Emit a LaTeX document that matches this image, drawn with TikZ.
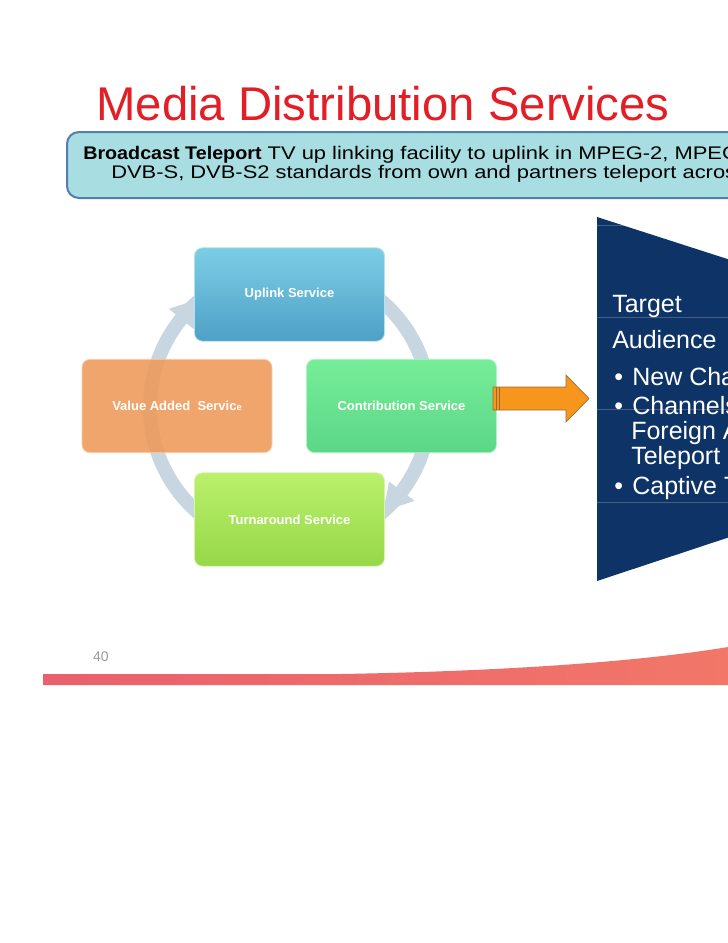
\documentclass[tikz,border=0pt]{standalone}
\usepackage{fontspec}
\setmainfont{Liberation Sans}
\newfontfamily\bodyfont[FakeStretch=1.2]{Liberation Sans}
\newfontfamily\bodybold[FakeStretch=1.08]{Liberation Sans}
\usetikzlibrary{calc}
\definecolor{titlered}{RGB}{226,30,38}
\definecolor{bannerfill}{RGB}{168,221,226}
\definecolor{bannerline}{RGB}{84,126,176}
\definecolor{navy}{RGB}{14,51,102}
\definecolor{ringc}{RGB}{200,214,225}
\definecolor{upA}{RGB}{124,206,230}
\definecolor{upB}{RGB}{78,160,198}
\definecolor{vaA}{RGB}{246,172,108}
\definecolor{vaB}{RGB}{238,156,92}
\definecolor{coA}{RGB}{118,238,152}
\definecolor{coB}{RGB}{92,214,136}
\definecolor{tuA}{RGB}{186,240,108}
\definecolor{tuB}{RGB}{150,216,72}
\definecolor{arrowor}{RGB}{247,150,28}
\definecolor{arrowln}{RGB}{150,108,50}
\definecolor{swA}{RGB}{234,96,110}
\definecolor{swB}{RGB}{242,120,104}
\begin{document}
\begin{tikzpicture}[x=0.75pt,y=-0.75pt,
  svcbox/.style={rounded corners=6pt, minimum width=142.5pt, minimum height=70pt,
    inner sep=0pt, font=\fontsize{9.75pt}{11pt}\selectfont\bfseries, text=white},
  txt/.style={inner sep=0pt, anchor=base west},
  navytxt/.style={txt, text=white, font=\fontsize{18.75pt}{22pt}\selectfont},
  gridln/.style={white, opacity=0.22, line width=0.5pt}]
\useasboundingbox (0,0) rectangle (728,943);
\fill[white] (0,0) rectangle (728,943);
\clip (0,0) rectangle (728,943);

% title
\node[txt, text=titlered, font=\fontsize{35.5pt}{40pt}\selectfont] (title) at (96,120) {Media Distribution Services};

% banner
\draw[fill=bannerfill, draw=bannerline, line width=1.5pt, rounded corners=9pt] (67,132) rectangle (760,198);
\node[txt, font=\fontsize{13.7pt}{16pt}\selectfont] (bl1) at (83,159)
  {{\bodybold\bfseries Broadcast Teleport}\bodyfont{} TV up linking facility to uplink in MPEG-2, MPEG};
\node[txt, font=\fontsize{13.7pt}{16pt}\selectfont\bodyfont] (bl2) at (111,178)
  {DVB-S, DVB-S2 standards from own and partners teleport across};

% cycle ring
\coordinate (cc) at (290,407);
\draw[ringc, line width=10.5pt] (cc) circle[radius=140];
% arrowheads of the ring (angles negated: y axis points down)
\fill[ringc] ($(cc)+(-141:124)$) -- ($(cc)+(-141:156)$) -- ($(cc)+(-129:140)$) -- cycle;
\fill[ringc] ($(cc)+(37:124)$) -- ($(cc)+(37:156)$) -- ($(cc)+(48:140)$) -- cycle;

% service boxes
\node[svcbox, top color=upA, bottom color=upB, draw=upA!60!white, line width=0.6pt] (up) at (289.5,294.5) {Uplink Service};
\node[svcbox, fill=vaB, fill opacity=0.9, text opacity=1, draw=vaA!60!white, line width=0.6pt] (va) at (177,406) {Value Added\ \ Servic{\fontsize{7pt}{8pt}\selectfont e}};
\node[svcbox, top color=coA, bottom color=coB, draw=coA!60!white, line width=0.6pt] (co) at (401.5,406) {Contribution Service};
\node[svcbox, top color=tuA, bottom color=tuB, draw=tuA!60!white, line width=0.6pt] (tu) at (289.5,519.5) {Turnaround Service};

% block arrow
\coordinate (as) at (493,398.5);
\fill[arrowor, draw=arrowln, line width=0.5pt]
  ($(as)+(0,-11.5)$) -- ($(as)+(73,-11.5)$) -- ($(as)+(73,-23.5)$) -- ($(as)+(96,0)$)
  -- ($(as)+(73,23.5)$) -- ($(as)+(73,11.5)$) -- ($(as)+(0,11.5)$) -- cycle;
\draw[arrowln, line width=0.6pt] ($(as)+(3,-11.5)$) -- ($(as)+(3,11.5)$);
\draw[arrowln, line width=0.6pt] ($(as)+(6,-11.5)$) -- ($(as)+(6,11.5)$);

% navy trapezoid
\fill[navy] (597,217) -- (760,269.5) -- (760,527) -- (597,581) -- cycle;
\begin{scope}
\clip (597,217) -- (760,269.5) -- (760,527) -- (597,581) -- cycle;
\foreach \yy in {225,317,409,502} \draw[gridln] (597,\yy) -- (760,\yy);
\end{scope}
\node[navytxt] (t1) at (612,312) {Target};
\node[navytxt] (t2) at (612,348) {Audience};
\node[navytxt] (b1) at (614,385) {•\hspace{7pt}New Cha};
\node[navytxt] (b2) at (614,414) {•\hspace{7pt}Channels};
\node[navytxt] (b2b) at (631,439) {Foreign A};
\node[navytxt] (b2c) at (631,464) {Teleport};
\node[navytxt] (b3) at (614,494) {•\hspace{7pt}Captive T};

% footer
\node[text=gray!80, font=\fontsize{10.5pt}{12pt}\selectfont, inner sep=0pt] (pg) at (101,657) {40};
\shade[left color=swA, right color=swB]
  (43,674) -- (340,674) .. controls (520,671) and (650,660) .. (728,647) -- (760,641)
  -- (760,685) -- (43,685) -- cycle;
\end{tikzpicture}
\end{document}
